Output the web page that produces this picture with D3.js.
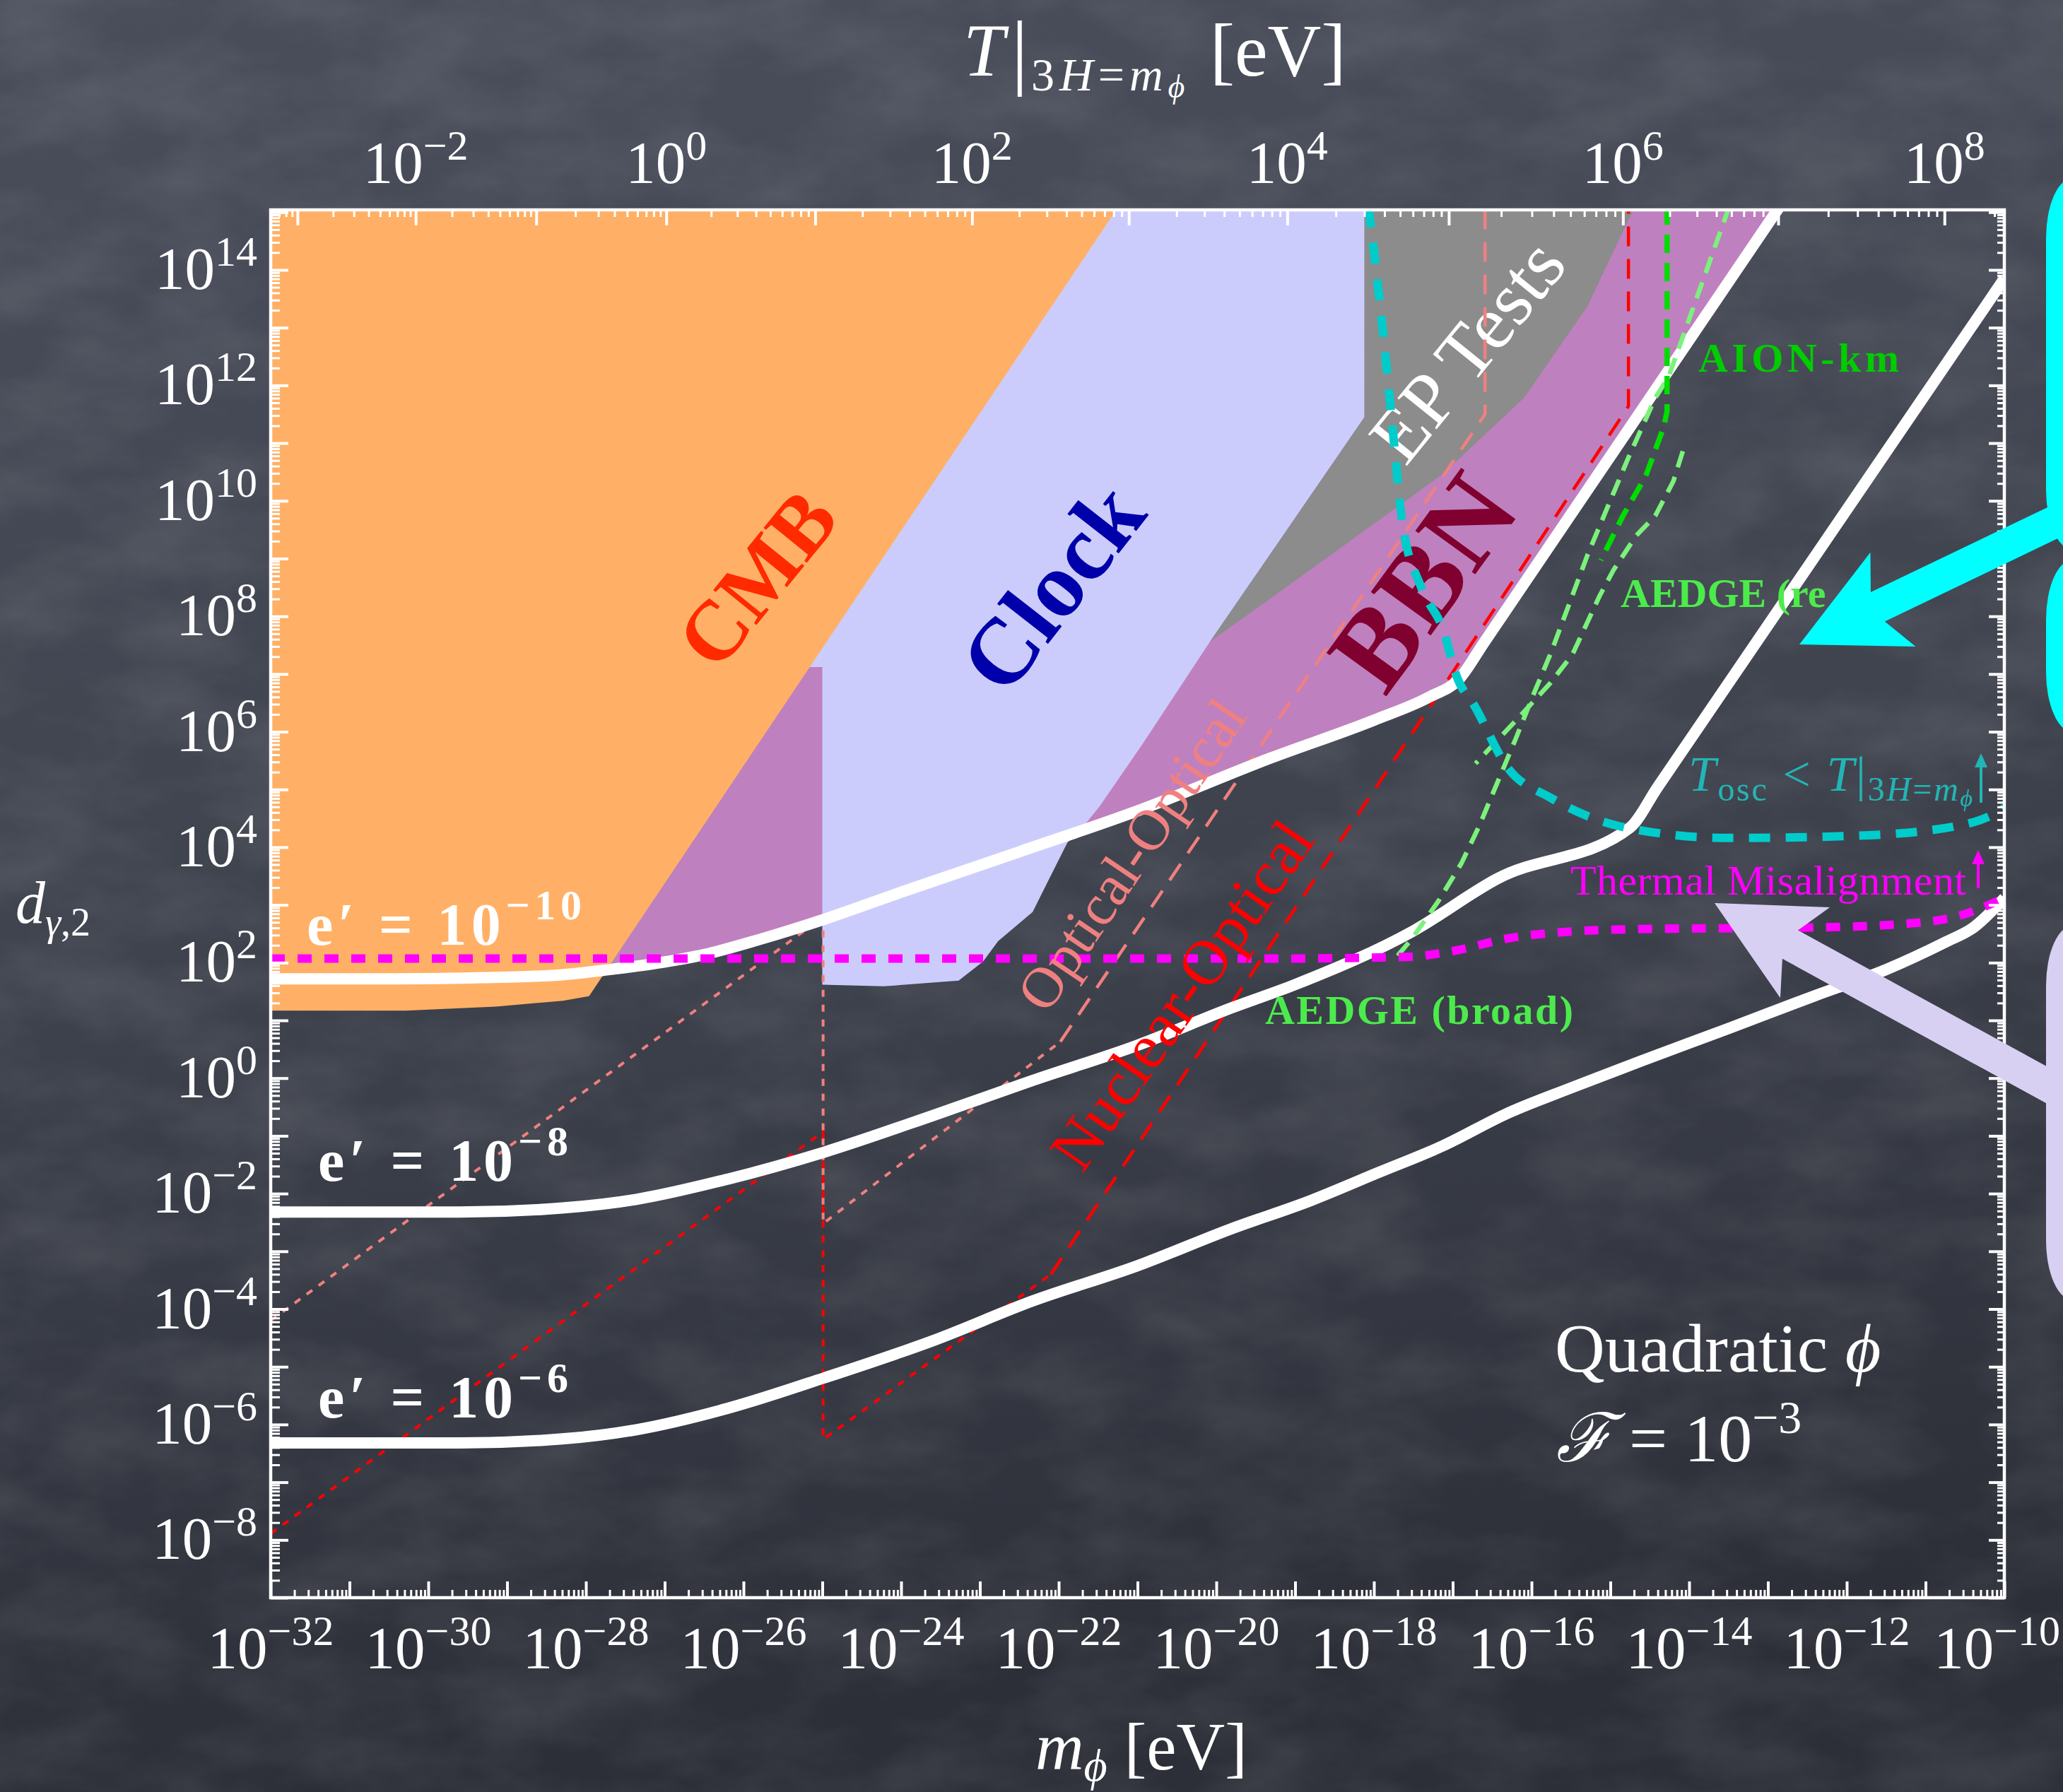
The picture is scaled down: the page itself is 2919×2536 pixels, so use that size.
<!DOCTYPE html>
<html>
<head>
<meta charset="utf-8">
<script src="https://cdn.jsdelivr.net/npm/d3@7"></script>
<style>
html, body { margin: 0; padding: 0; overflow: hidden; background: #3b3f4b; }
svg { display: block; }
text { font-family: 'Liberation Serif', 'DejaVu Serif', serif; }
</style>
</head>
<body>
<script>
// ---------------------------------------------------------------
// Data. Every point is [log10(m_phi / eV), log10(d_gamma,2)].
// ---------------------------------------------------------------
const massTickExps = [-32, -30, -28, -26, -24, -22, -20, -18, -16, -14, -12, -10];
const couplingTickExps = [-8, -6, -4, -2, 0, 2, 4, 6, 8, 10, 12, 14];
// top axis: T|_{3H=m} decades and the mass (log10) where each decade sits
const tempTickExps     = [-3, -2, -1, 0, 1, 2, 3, 4, 5, 6, 7, 8];
const tempTickMassExps = [-31.66, -30.16, -28.63, -26.98, -25.09, -23.10, -21.11, -19.10, -17.05, -14.84, -12.87, -10.76];
const tempLabelExps = [-2, 0, 2, 4, 6, 8];

// excluded regions
const cmbRegion = [[-32, 15.1], [-21.24, 15.1], [-27.96, 1.42], [-28.29, 1.34], [-29.14, 1.24], [-30.29, 1.17], [-32, 1.17]];
const clockRegion = [[-25.5, 15.1], [-25.5, 7.12], [-25.0, 7.12], [-25.0, 1.62], [-24.22, 1.59], [-23.27, 1.69],
  [-22.96, 2.02], [-22.77, 2.37], [-22.33, 2.88], [-22.14, 3.40], [-21.89, 4.08], [-21.70, 4.34], [-21.48, 4.71],
  [-20.94, 5.78], [-20.08, 7.56], [-18.12, 11.45], [-18.12, 15.1]];
const epRegion = [[-20.08, 7.56], [-18.12, 11.45], [-18.12, 15.1], [-14.2, 15.1], [-16.5, 9.0], [-19.5, 7.8]];
const bbnRegion = [[-28.6, 7.12], [-21.0, 7.12], [-20.08, 7.56], [-19.29, 8.33], [-17.12, 10.47], [-16.09, 11.79],
  [-15.29, 13.37], [-14.77, 14.87], [-14.68, 15.1], [-12.82, 15.1], [-16.92, 6.91], [-17.3, 6.6], [-18.0, 6.2],
  [-19.3, 5.55], [-21.0, 4.63], [-22.5, 3.92], [-25.0, 2.74], [-26.5, 2.14], [-27.7, 1.88], [-28.6, 1.8]];

// relic-abundance curves for fixed e'
const ePrime10 = [[-32, 1.72], [-30.4, 1.72], [-29.3, 1.74], [-28.3, 1.79], [-27.7, 1.88], [-27.1, 1.99], [-26.5, 2.14],
  [-25.8, 2.40], [-25.0, 2.74], [-24.0, 3.22], [-22.5, 3.92], [-21.0, 4.63], [-19.3, 5.55], [-18.0, 6.2],
  [-17.3, 6.6], [-16.92, 6.91], [-16.6, 7.55], [-12.85, 15.1]];
const ePrime8 = [[-32, -2.32], [-29.6, -2.32], [-28.3, -2.25], [-27.36, -2.10], [-26.2, -1.75], [-24.97, -1.28],
  [-23.6, -0.65], [-22.33, -0.04], [-21.0, 0.57], [-19.8, 1.22], [-19.0, 1.62], [-17.5, 2.55], [-16.44, 3.45],
  [-14.75, 4.34], [-14.4, 5.04], [-10.0, 13.85]];
const ePrime6 = [[-32, -6.32], [-29.6, -6.32], [-28.3, -6.25], [-27.36, -6.09], [-26.2, -5.72], [-24.97, -5.19],
  [-23.6, -4.55], [-22.33, -3.86], [-21.0, -3.25], [-19.81, -2.61], [-18.8, -2.12], [-17.95, -1.64], [-17.12, -1.17],
  [-16.29, -0.6], [-15.5, -0.17], [-14.62, 0.29], [-13.5, 0.86], [-12.4, 1.43], [-11.5, 1.88], [-10.74, 2.36],
  [-10.4, 2.6], [-10.0, 3.12]];

const thermalMisalignment = [[-32, 2.07], [-19.3, 2.07], [-17.6, 2.10], [-17.0, 2.2], [-16.3, 2.42], [-15.5, 2.54],
  [-14.7, 2.58], [-12.4, 2.61], [-11.2, 2.68], [-10.6, 2.8], [-10.0, 3.12]];
const oscillationBound = [[-18.07, 15.1], [-17.92, 13.37], [-17.78, 11.50], [-17.64, 9.63], [-17.40, 8.50],
  [-17.12, 7.76], [-16.95, 6.96], [-16.72, 6.44], [-16.32, 5.41], [-15.75, 4.85], [-14.77, 4.33], [-13.51, 4.16],
  [-11.85, 4.20], [-10.52, 4.39], [-10.07, 4.62], [-10.0, 4.68]];

// clock-comparison projections
const opticalOpticalDotted = [[-32, -4.20], [-24.99, 2.79], [-24.99, -2.52], [-21.98, 0.63]];
const opticalOpticalDashed = [[-21.98, 0.63], [-16.59, 11.50], [-16.59, 15.1]];
const nuclearOpticalDotted = [[-32, -7.89], [-24.99, -0.93], [-24.99, -6.26], [-22.1, -3.4]];
const nuclearOpticalDashed = [[-22.1, -3.4], [-17.15, 6.72], [-14.77, 11.64], [-14.77, 15.1]];

// atom-interferometer projections
const aedgeBroad = [[-13.49, 15.1], [-14.26, 12.15], [-14.43, 11.78], [-14.77, 10.75], [-15.06, 9.81], [-15.29, 9.06],
  [-15.52, 8.22], [-15.75, 7.38], [-15.98, 6.63], [-16.20, 5.88], [-16.43, 5.13], [-16.66, 4.38], [-16.89, 3.72],
  [-17.18, 3.07], [-17.52, 2.41], [-17.75, 2.04]];
const aedgeResonant = [[-14.08, 10.86], [-14.20, 10.34], [-14.43, 9.74], [-14.67, 9.40], [-14.96, 8.80],
  [-15.13, 8.37], [-15.48, 7.34], [-15.77, 6.83], [-16.18, 6.22], [-16.47, 5.80], [-16.71, 5.45]];
const aionKm = [[-14.28, 15.1], [-14.28, 11.55], [-14.32, 11.29], [-14.55, 10.43], [-14.84, 9.74], [-15.12, 8.97]];

// ---------------------------------------------------------------
const W = 2919, H = 2536;
const M = { left: 383, right: 2836, top: 297, bottom: 2261 };
const WHITE = '#ffffff';

const svg = d3.select('body').append('svg').attr('width', W).attr('height', H);
const defs = svg.append('defs');

// chalkboard background
const grad = defs.append('linearGradient').attr('id', 'board').attr('x1', 0).attr('y1', 0).attr('x2', 0.15).attr('y2', 1);
grad.append('stop').attr('offset', '0%').attr('stop-color', '#4a4e5b');
grad.append('stop').attr('offset', '50%').attr('stop-color', '#40444f');
grad.append('stop').attr('offset', '100%').attr('stop-color', '#2c2f38');
svg.append('rect').attr('width', W).attr('height', H).attr('fill', 'url(#board)');

const chalk = defs.append('filter').attr('id', 'chalk').attr('x', 0).attr('y', 0).attr('width', '100%').attr('height', '100%');
chalk.append('feTurbulence').attr('type', 'fractalNoise').attr('baseFrequency', '0.006 0.011')
  .attr('numOctaves', 5).attr('seed', 11).attr('result', 'noise');
chalk.append('feColorMatrix').attr('in', 'noise').attr('type', 'matrix')
  .attr('values', '0 0 0 0 1  0 0 0 0 1  0 0 0 0 1  0.16 0 0 0 -0.055');
svg.append('rect').attr('width', W).attr('height', H).attr('filter', 'url(#chalk)');

// scales
const x = d3.scaleLog().domain([1e-32, 1e-10]).range([M.left, M.right]);
const y = d3.scaleLog().domain([1e-9, Math.pow(10, 15.04)]).range([M.bottom, M.top]);
const px = p => x(Math.pow(10, p[0]));
const py = p => y(Math.pow(10, p[1]));
const tempMap = d3.scaleLinear().domain(tempTickExps).range(tempTickMassExps);

defs.append('clipPath').attr('id', 'plotClip').append('rect')
  .attr('x', M.left).attr('y', M.top).attr('width', M.right - M.left).attr('height', M.bottom - M.top);

const plot = svg.append('g').attr('clip-path', 'url(#plotClip)');
const line = d3.line().x(px).y(py);
const smooth = d3.line().x(px).y(py).curve(d3.curveMonotoneX);
const poly = d => line(d) + 'Z';

// regions (back to front)
plot.append('path').attr('d', poly(epRegion)).attr('fill', '#8c8c8c');
plot.append('path').attr('d', poly(bbnRegion)).attr('fill', '#bf80bf');
plot.append('path').attr('d', poly(clockRegion)).attr('fill', '#ccccfc');
plot.append('path').attr('d', poly(cmbRegion)).attr('fill', '#ffb066');

// region labels
function rotLabel(g, txt, cx, cy, ang, size, fill, weight) {
  return g.append('text').attr('transform', `translate(${cx},${cy}) rotate(${ang})`)
    .attr('text-anchor', 'middle').attr('dominant-baseline', 'central')
    .attr('font-size', size).attr('font-weight', weight || 'normal').attr('fill', fill).text(txt);
}
rotLabel(plot, 'CMB', 1071, 819, -51, 120, '#ff2a00', 'bold');
rotLabel(plot, 'Clock', 1489, 831, -52, 132, '#0000aa', 'bold');
rotLabel(plot, 'BBN', 2013, 823, -54, 160, '#80002f', 'bold');
rotLabel(plot, 'EP Tests', 2076, 496, -51, 108, WHITE, 'normal');

// line helper
function drawLine(data, gen, stroke, width, dash) {
  plot.append('path').attr('d', gen(data)).attr('fill', 'none')
    .attr('stroke', stroke).attr('stroke-width', width)
    .attr('stroke-dasharray', dash || null)
    .attr('stroke-linecap', 'butt').attr('stroke-linejoin', 'round');
}

// clock projections
drawLine(opticalOpticalDotted, line, '#f08080', 4, '10 11');
drawLine(opticalOpticalDashed, line, '#f08080', 4.5, '28 18');
drawLine(nuclearOpticalDotted, line, '#ff0000', 4, '10 11');
drawLine(nuclearOpticalDashed, line, '#ff0000', 4.5, '28 18');

// relic curves
drawLine(ePrime10, smooth, WHITE, 16);
drawLine(ePrime8, smooth, WHITE, 16);
drawLine(ePrime6, smooth, WHITE, 16);

// atom interferometers
drawLine(aedgeBroad, line, '#7bf27b', 6.5, '24 14');
drawLine(aedgeResonant, line, '#7bf27b', 6.5, '24 14');
drawLine(aionKm, line, '#00dd00', 7.5, '26 14');

// oscillation / misalignment boundaries
drawLine(oscillationBound, smooth, '#00cccc', 12, '30 22');
drawLine(thermalMisalignment, smooth, '#ff00ff', 12, '20 18');

// ---------------------------------------------------------------
// axes
// ---------------------------------------------------------------
const axes = svg.append('g').attr('color', WHITE);
const massMajors = d3.range(-32, -9).map(k => Math.pow(10, k));
const massMinors = [];
d3.range(-32, -10).forEach(k => d3.range(2, 10).forEach(j => massMinors.push(j * Math.pow(10, k))));
const yTop = Math.pow(10, 15.04);
const coupMajors = d3.range(-9, 16).map(k => Math.pow(10, k)).filter(v => v <= yTop);
const coupMinors = [];
d3.range(-9, 16).forEach(k => d3.range(2, 10).forEach(j => {
  const v = j * Math.pow(10, k); if (v <= yTop) coupMinors.push(v);
}));
const tempMajors = [], tempMinors = [];
d3.range(-4, 9).forEach(k => d3.range(1, 10).forEach(j => {
  const lm = tempMap(k + Math.log10(j));
  if (lm >= -32 && lm <= -10) (j === 1 ? tempMajors : tempMinors).push(Math.pow(10, lm));
}));

function styleAxis(sel, w) {
  sel.select('.domain').remove();
  sel.selectAll('.tick line').attr('stroke-width', w);
  sel.selectAll('.tick text').remove();
}
axes.append('g').attr('transform', `translate(0,${M.bottom})`)
  .call(d3.axisBottom(x).tickValues(massMajors).tickSize(-23).tickFormat('')).call(s => styleAxis(s, 4));
axes.append('g').attr('transform', `translate(0,${M.bottom})`)
  .call(d3.axisBottom(x).tickValues(massMinors).tickSize(-11).tickFormat('')).call(s => styleAxis(s, 3));
axes.append('g').attr('transform', `translate(0,${M.top})`)
  .call(d3.axisTop(x).tickValues(tempMajors).tickSize(-22).tickFormat('')).call(s => styleAxis(s, 4));
axes.append('g').attr('transform', `translate(0,${M.top})`)
  .call(d3.axisTop(x).tickValues(tempMinors).tickSize(-10).tickFormat('')).call(s => styleAxis(s, 3));
axes.append('g').attr('transform', `translate(${M.left},0)`)
  .call(d3.axisLeft(y).tickValues(coupMajors).tickSize(-25).tickFormat('')).call(s => styleAxis(s, 4));
axes.append('g').attr('transform', `translate(${M.left},0)`)
  .call(d3.axisLeft(y).tickValues(coupMinors).tickSize(-13).tickFormat('')).call(s => styleAxis(s, 3));
axes.append('g').attr('transform', `translate(${M.right},0)`)
  .call(d3.axisRight(y).tickValues(coupMajors).tickSize(-22).tickFormat('')).call(s => styleAxis(s, 4));
axes.append('g').attr('transform', `translate(${M.right},0)`)
  .call(d3.axisRight(y).tickValues(coupMinors).tickSize(-10).tickFormat('')).call(s => styleAxis(s, 3));

svg.append('rect').attr('x', M.left).attr('y', M.top).attr('width', M.right - M.left).attr('height', M.bottom - M.top)
  .attr('fill', 'none').attr('stroke', WHITE).attr('stroke-width', 4.5);

// tick labels
const labels = svg.append('g').attr('fill', WHITE);
const expText = e => (e < 0 ? '\u2212' + (-e) : String(e));
function powLabel(xp, yp, e, anchor) {
  const t = labels.append('text').attr('x', xp).attr('y', yp).attr('text-anchor', anchor).attr('font-size', 85);
  t.append('tspan').text('10');
  t.append('tspan').attr('font-size', 60).attr('dy', -33).text(expText(e));
}
massTickExps.forEach(k => {
  const cx = x(Math.pow(10, k));
  // the right-most label is kept inside the page edge
  if (cx + 90 > W) powLabel(W - 4, 2361, k, 'end');
  else powLabel(cx, 2361, k, 'middle');
});
couplingTickExps.forEach(k => powLabel(364, y(Math.pow(10, k)) + 27, k, 'end'));
tempLabelExps.forEach(k => powLabel(x(Math.pow(10, tempMap(k))), 259, k, 'middle'));

// axis titles
const yl = labels.append('text').attr('x', 22).attr('y', 1306).attr('font-size', 84);
yl.append('tspan').attr('font-style', 'italic').text('d');
yl.append('tspan').attr('font-size', 56).attr('font-style', 'italic').attr('dy', 18).text('\u03b3');
yl.append('tspan').attr('font-size', 56).text(',2');

const xl = labels.append('text').attr('x', 1465).attr('y', 2504).attr('font-size', 95);
xl.append('tspan').attr('font-style', 'italic').text('m');
xl.append('tspan').attr('font-style', 'italic').attr('font-size', 64).attr('dy', 16).text('\u03d5');
xl.append('tspan').attr('dy', -16).attr('dx', 24).text('[eV]');

labels.append('text').attr('x', 1363).attr('y', 107).attr('font-size', 105).attr('font-style', 'italic').text('T');
labels.append('text').attr('x', 1431).attr('y', 112).attr('font-size', 118).text('|');
const ts = labels.append('text').attr('x', 1459).attr('y', 128).attr('font-size', 66).attr('font-style', 'italic')
  .attr('letter-spacing', 7);
ts.append('tspan').attr('font-style', 'normal').text('3');
ts.append('tspan').text('H');
ts.append('tspan').attr('font-style', 'normal').text('=');
ts.append('tspan').text('m');
ts.append('tspan').attr('font-size', 46).attr('dy', 10).text('\u03d5');
labels.append('text').attr('x', 1712).attr('y', 107).attr('font-size', 105).text('[eV]');

// ---------------------------------------------------------------
// in-plot annotations
// ---------------------------------------------------------------
const ann = svg.append('g');
function ePrimeLabel(xp, yp, e, len) {
  const t = ann.append('text').attr('x', xp).attr('y', yp).attr('font-size', 84).attr('font-weight', 'bold')
    .attr('fill', WHITE).attr('textLength', len).attr('lengthAdjust', 'spacing');
  t.append('tspan').text('e\u2032 = 10');
  t.append('tspan').attr('font-size', 60).attr('dy', -36).text(expText(e));
}
ePrimeLabel(434, 1337, -10, 389);
ePrimeLabel(450, 1671, -8, 354);
ePrimeLabel(450, 2006, -6, 354);

rotLabel(ann, 'Optical-Optical', 1601, 1210, -56, 82, '#f08080', 'normal');
rotLabel(ann, 'Nuclear-Optical', 1672, 1408, -55, 90, '#ff0000', 'normal');

ann.append('text').attr('x', 2403).attr('y', 526).attr('font-size', 58).attr('font-weight', 'bold')
  .attr('fill', '#00cc00').attr('textLength', 284).attr('lengthAdjust', 'spacing').text('AION-km');
ann.append('text').attr('x', 2293).attr('y', 859).attr('font-size', 58).attr('font-weight', 'bold')
  .attr('fill', '#4ceb4c').text('AEDGE (re');
ann.append('text').attr('x', 1790).attr('y', 1449).attr('font-size', 58).attr('font-weight', 'bold')
  .attr('fill', '#4ceb4c').attr('textLength', 436).attr('lengthAdjust', 'spacing').text('AEDGE (broad)');

const osc = ann.append('text').attr('x', 2389).attr('y', 1119).attr('font-size', 70).attr('fill', '#22b5b5')
  .attr('textLength', 402).attr('lengthAdjust', 'spacing');
osc.append('tspan').attr('font-style', 'italic').text('T');
osc.append('tspan').attr('font-size', 48).attr('dy', 14).text('osc');
osc.append('tspan').attr('dy', -14).text(' < ');
osc.append('tspan').attr('font-style', 'italic').text('T');
osc.append('tspan').text('|');
osc.append('tspan').attr('font-size', 48).attr('dy', 14).text('3');
osc.append('tspan').attr('font-size', 48).attr('font-style', 'italic').text('H');
osc.append('tspan').attr('font-size', 48).text('=');
osc.append('tspan').attr('font-size', 48).attr('font-style', 'italic').text('m');
osc.append('tspan').attr('font-size', 34).attr('font-style', 'italic').attr('dy', 8).text('\u03d5');

ann.append('text').attr('x', 2222).attr('y', 1266).attr('font-size', 60).attr('fill', '#ff00ff')
  .attr('textLength', 560).attr('lengthAdjust', 'spacing').text('Thermal Misalignment');

function smallArrow(xp, y0, y1, color) {
  ann.append('line').attr('x1', xp).attr('x2', xp).attr('y1', y0).attr('y2', y1 + 14)
    .attr('stroke', color).attr('stroke-width', 4);
  ann.append('path').attr('d', `M${xp},${y1}L${xp - 9},${y1 + 20}L${xp + 9},${y1 + 20}Z`).attr('fill', color);
}
smallArrow(2803, 1136, 1066, '#22b5b5');
smallArrow(2799, 1257, 1203, '#ff00ff');

const qf = ann.append('g').attr('fill', WHITE);
const q1 = qf.append('text').attr('x', 2200).attr('y', 1941).attr('font-size', 98);
q1.append('tspan').text('Quadratic ');
q1.append('tspan').attr('font-style', 'italic').text('\u03d5');
const q2 = qf.append('text').attr('x', 2202).attr('y', 2068).attr('font-size', 96);
q2.append('tspan').attr('font-family', "'DejaVu Serif', serif").attr('font-style', 'italic').text('\u2131');
q2.append('tspan').text(' = 10');
q2.append('tspan').attr('font-size', 66).attr('dy', -40).text('\u22123');

// ---------------------------------------------------------------
// slide call-outs at the right edge
// ---------------------------------------------------------------
function arrowPath(tail, tip, shaftW, headLen, headW, notch) {
  const dx = tail[0] - tip[0], dy = tail[1] - tip[1], L = Math.hypot(dx, dy);
  const ux = dx / L, uy = dy / L, nx = -uy, ny = ux;
  const bx = tip[0] + ux * headLen, by = tip[1] + uy * headLen;
  const cx = tip[0] + ux * (headLen - notch), cy = tip[1] + uy * (headLen - notch);
  const pts = [
    tip,
    [bx + nx * headW, by + ny * headW],
    [cx + nx * shaftW / 2, cy + ny * shaftW / 2],
    [tail[0] + nx * shaftW / 2, tail[1] + ny * shaftW / 2],
    [tail[0] - nx * shaftW / 2, tail[1] - ny * shaftW / 2],
    [cx - nx * shaftW / 2, cy - ny * shaftW / 2],
    [bx - nx * headW, by - ny * headW]
  ];
  return 'M' + pts.map(p => p.join(',')).join('L') + 'Z';
}
const callouts = svg.append('g');
callouts.append('path').attr('d', arrowPath([3000, 694], [2546, 912], 46, 147, 74, 24)).attr('fill', '#00ffff');
callouts.append('rect').attr('x', 2895).attr('y', 252).attr('width', 300).attr('height', 526)
  .attr('rx', 38).attr('ry', 85).attr('fill', '#00ffff');
callouts.append('rect').attr('x', 2895).attr('y', 792).attr('width', 300).attr('height', 244)
  .attr('rx', 38).attr('ry', 85).attr('fill', '#00ffff');
callouts.append('path').attr('d', arrowPath([2970, 1576], [2426, 1278], 46, 146, 73, 24)).attr('fill', '#d8d0f3');
callouts.append('rect').attr('x', 2895).attr('y', 1310).attr('width', 300).attr('height', 530)
  .attr('rx', 38).attr('ry', 85).attr('fill', '#d8d0f3');
</script>
</body>
</html>
